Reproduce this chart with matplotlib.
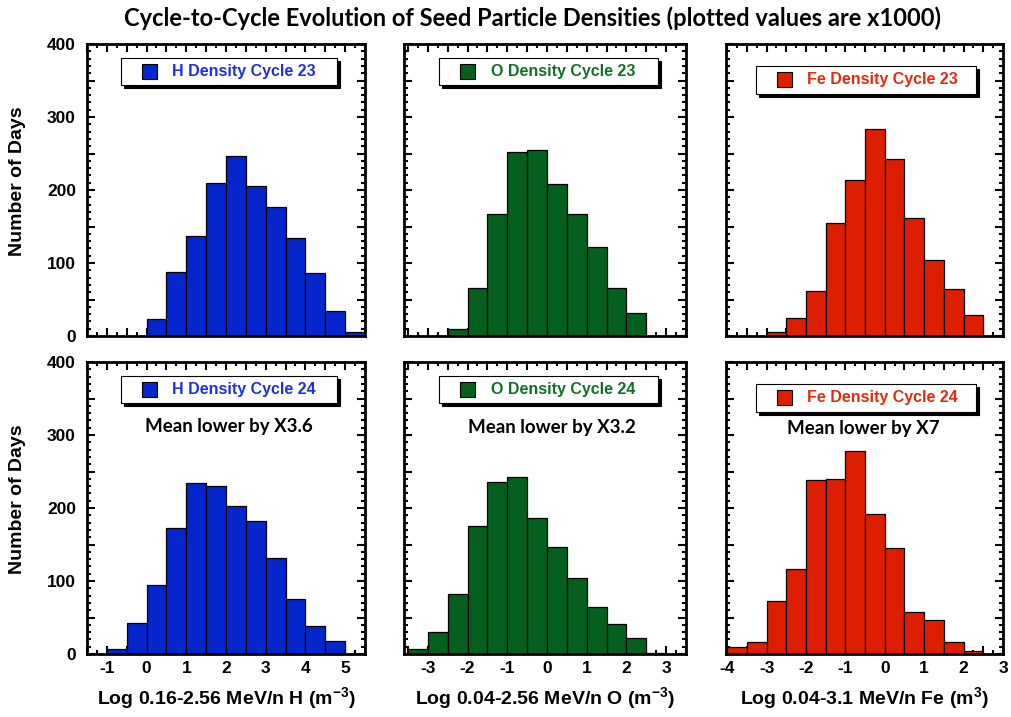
import matplotlib
matplotlib.use("Agg")
import matplotlib.pyplot as plt
from matplotlib.patches import Rectangle
from matplotlib.ticker import MultipleLocator, FuncFormatter
import numpy as np

plt.rcParams["font.family"] = "Liberation Sans"
plt.rcParams["font.weight"] = "bold"
plt.rcParams["mathtext.fontset"] = "custom"
plt.rcParams["mathtext.rm"] = "Liberation Sans:bold"
plt.rcParams["mathtext.bf"] = "Liberation Sans:bold"

# Histogram counts (number of days per 0.5-wide log-density bin)
h_edges_c23 = np.arange(0.0, 5.51, 0.5)
h_counts_c23 = [23, 87, 137, 210, 247, 206, 177, 134, 86, 34, 6]
h_edges_c24 = np.arange(-1.0, 5.01, 0.5)
h_counts_c24 = [7, 42, 94, 172, 234, 230, 203, 182, 131, 75, 38, 18]

o_edges_c23 = np.arange(-2.5, 2.51, 0.5)
o_counts_c23 = [10, 66, 167, 252, 255, 208, 167, 122, 66, 31]
o_edges_c24 = np.arange(-3.5, 3.01, 0.5)
o_counts_c24 = [7, 30, 82, 176, 236, 243, 186, 147, 104, 64, 41, 22, 2]

fe_edges_c23 = np.arange(-3.0, 2.51, 0.5)
fe_counts_c23 = [5, 24, 62, 155, 214, 283, 242, 161, 104, 65, 29]
fe_edges_c24 = np.arange(-4.0, 2.51, 0.5)
fe_counts_c24 = [10, 16, 72, 116, 239, 240, 278, 192, 145, 57, 46, 16, 4]

species = ["H", "O", "Fe"]
colors = ["#0526CC", "#04601C", "#DD1E00"]
text_colors = ["#2030DD", "#107028", "#E22A10"]
x_limits = [(-1.5, 5.5), (-3.6, 3.5), (-4.03, 3.0)]
x_labels = [
    "Log 0.16-2.56 MeV/n H (m$^{-3}$)",
    "Log 0.04-2.56 MeV/n O (m$^{-3}$)",
    "Log 0.04-3.1 MeV/n Fe (m$^{3}$)",
]
mean_notes = ["Mean lower by X3.6", "Mean lower by X3.2", "Mean lower by X7"]

edges = [[h_edges_c23, h_edges_c24], [o_edges_c23, o_edges_c24],
         [fe_edges_c23, fe_edges_c24]]
counts = [[h_counts_c23, h_counts_c24], [o_counts_c23, o_counts_c24],
          [fe_counts_c23, fe_counts_c24]]

W, H = 1011, 717
fig = plt.figure(figsize=(W / 100, H / 100), dpi=100)
fig.patch.set_facecolor("white")

# axes boxes in pixels: (left, right) per column, (top, bottom) per row
col_px = [(87, 365), (404, 686), (726, 1003)]
row_px = [(44, 336), (362, 654)]
legend_box = [(0.122, 0.90, 0.858, 0.952), (0.124, 0.90, 0.858, 0.952),
              (0.108, 0.902, 0.83, 0.925)]
note_pos = [(0.51, 0.78), (0.526, 0.776), (0.495, 0.773)]


def draw_legend(ax, x0, x1, y0, y1, color, tcolor, label):
    dx, dy = 3.0 / 278, 3.0 / 292
    ax.add_patch(Rectangle((x0 + dx, y0 - dy), x1 - x0, y1 - y0,
                           transform=ax.transAxes, facecolor="black",
                           edgecolor="black", lw=0.8, zorder=5, clip_on=False))
    ax.add_patch(Rectangle((x0, y0), x1 - x0, y1 - y0, transform=ax.transAxes,
                           facecolor="white", edgecolor="black", lw=0.8,
                           zorder=6, clip_on=False))
    sq_w, sq_h = 15.0 / 278, 15.0 / 292
    yc = (y0 + y1) / 2
    ax.add_patch(Rectangle((x0 + 21.0 / 278, yc - sq_h / 2), sq_w, sq_h,
                           transform=ax.transAxes, facecolor=color,
                           edgecolor="black", lw=0.8, zorder=7))
    ax.text(x0 + 51.0 / 278, yc, label, transform=ax.transAxes, color=tcolor,
            fontsize=11.5, va="center", ha="left", zorder=8,
            fontweight="bold")


for col in range(3):
    for row in range(2):
        l, r = col_px[col]
        t, b = row_px[row]
        ax = fig.add_axes([l / W, 1 - b / H, (r - l) / W, (b - t) / H])
        e = edges[col][row]
        c = counts[col][row]
        ax.bar(e[:-1], c, width=0.5, align="edge", color=colors[col],
               edgecolor="black", linewidth=0.9, zorder=2)
        ax.set_xlim(*x_limits[col])
        ax.set_ylim(0, 400)

        for s in ax.spines.values():
            s.set_linewidth(2.0)
            s.set_zorder(10)
        ax.xaxis.set_major_locator(MultipleLocator(0.5))
        ax.xaxis.set_minor_locator(MultipleLocator(0.25))
        ax.yaxis.set_major_locator(MultipleLocator(50))
        ax.yaxis.set_minor_locator(MultipleLocator(10))
        ax.tick_params(which="both", direction="in", top=True, right=True,
                       width=1.5, colors="black", labelsize=12.5)
        ax.tick_params(which="major", length=6)
        ax.tick_params(which="minor", length=3)
        ax.tick_params(axis="x", pad=5)
        ax.tick_params(axis="y", pad=8)

        ax.xaxis.set_major_formatter(FuncFormatter(
            lambda v, p: f"{int(round(v))}" if abs(v - round(v)) < 1e-6 else ""))
        ax.yaxis.set_major_formatter(FuncFormatter(
            lambda v, p: f"{int(v)}" if int(v) % 100 == 0 else ""))

        if row == 0:
            ax.tick_params(axis="x", labelbottom=False)
        else:
            ax.set_xlabel(x_labels[col], fontsize=14, labelpad=7,
                          fontweight="bold")
            ax.text(*note_pos[col], mean_notes[col], transform=ax.transAxes,
                    ha="center", va="center", fontsize=13.5, family="Lato",
                    fontweight="bold", zorder=8)
        if col == 0:
            ax.set_ylabel("Number of Days", fontsize=14, fontweight="bold")
            ax.yaxis.set_label_coords(-0.22, 0.53)
        else:
            ax.tick_params(axis="y", labelleft=False)

        x0, x1, y0, y1 = legend_box[col]
        draw_legend(ax, x0, x1, y0, y1, colors[col], text_colors[col],
                    f"{species[col]} Density Cycle {23 + row}")

fig.text(0.527, 1 - 18 / H,
         "Cycle-to-Cycle Evolution of Seed Particle Densities (plotted values are x1000)",
         ha="center", va="center", fontsize=17, family="Lato",
         fontweight="bold")

fig.savefig("out.png", dpi=100, facecolor="white")
